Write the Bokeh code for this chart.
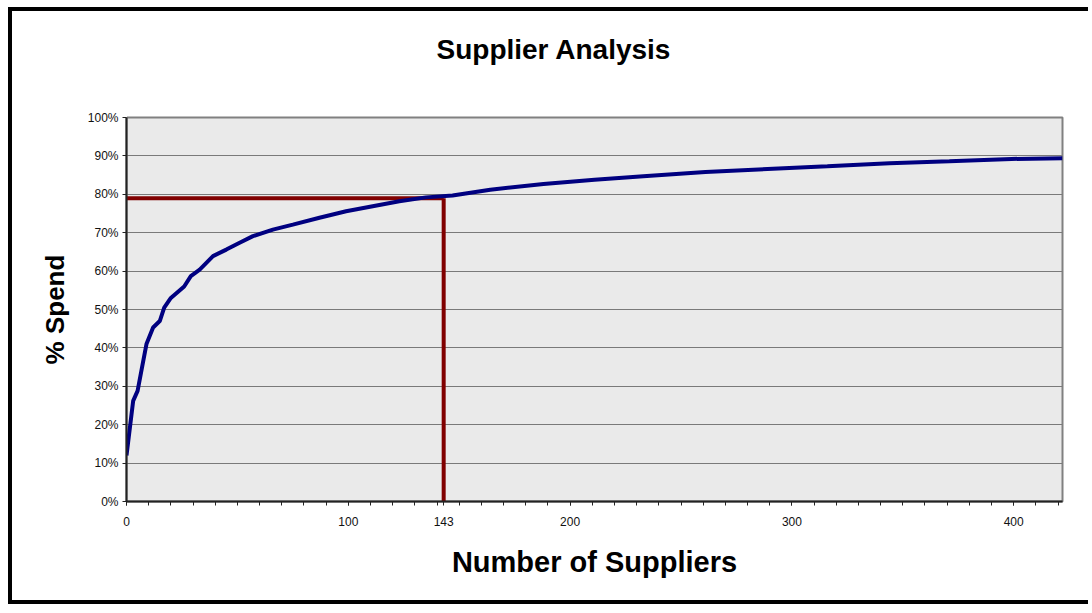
from bokeh.plotting import figure
from bokeh.models import Range1d, FixedTicker, CustomJSTickFormatter, LinearAxis
from bokeh.embed import file_html
from bokeh.resources import INLINE

# cumulative share of spend by number of suppliers
suppliers = [0, 3, 5, 7, 9, 12, 15, 17, 20, 26, 29, 33, 39, 45, 51, 57, 66, 75, 87, 99,
             111, 123, 135, 147, 164, 188, 211, 233, 261, 289, 316, 344, 371, 399, 422]
spend_pct = [12.0, 26.2, 28.8, 34.9, 41.0, 45.3, 47.0, 50.5, 53.0, 56.0, 58.7, 60.4, 63.9,
             65.6, 67.4, 69.1, 70.8, 72.1, 73.9, 75.6, 76.9, 78.2, 79.2, 79.7, 81.2, 82.7,
             83.8, 84.7, 85.8, 86.6, 87.3, 88.1, 88.6, 89.2, 89.4]

cutoff_suppliers = 143
cutoff_pct = 79.0

x_ticks = [0, 100, 143, 200, 300, 400]
x_minor = list(range(0, 430, 10))
y_ticks = [0, 10, 20, 30, 40, 50, 60, 70, 80, 90, 100]
x_max = 422

title_text = "Supplier Analysis"
FONT = "Liberation Sans"

p = figure(width=1080, height=597, output_backend="svg", toolbar_location=None,
           x_range=Range1d(0, x_max), y_range=Range1d(0, 100),
           min_border_left=114, min_border_right=30, min_border_top=106,
           min_border_bottom=107)
p.styles = {"border-top": "4px solid black", "border-left": "4px solid black",
            "border-bottom": "4px solid black", "margin": "7px 0px 0px 8px"}

# spacer between the plot area and the title (an invisible axis)
spacer = LinearAxis(ticker=FixedTicker(ticks=[0], minor_ticks=[]), major_tick_out=51,
                    major_tick_in=0, axis_line_color=None, major_tick_line_color="white",
                    minor_tick_line_color=None, major_label_standoff=0,
                    major_label_overrides={0: ""}, major_label_text_font_size="1px")
p.add_layout(spacer, "above")

p.title.text = title_text
p.title.align = "left"
p.title.offset = 310
p.title.text_font = FONT
p.title.text_font_size = "28px"
p.title.text_font_style = "bold"
p.title.text_color = "black"
p.title.standoff = 4

p.background_fill_color = "#eaeaea"
p.border_fill_color = "white"
p.outline_line_color = "#808080"
p.outline_line_width = 2

# grid
p.xgrid.visible = False
p.ygrid.grid_line_color = "#7a7a7a"
p.ygrid.grid_line_width = 1

# x axis
xa = p.below[0]
xa.ticker = FixedTicker(ticks=x_ticks, minor_ticks=x_minor)
xa.axis_label = "Number of Suppliers"
xa.axis_label_text_font = FONT
xa.axis_label_text_font_size = "29px"
xa.axis_label_text_font_style = "bold"
xa.axis_label_text_color = "black"
xa.axis_label_standoff = 17
xa.major_label_text_font = FONT
xa.major_label_text_font_size = "12px"
xa.major_label_text_color = "#111111"
xa.major_label_standoff = 11
xa.major_tick_in = 0
xa.major_tick_out = 4
xa.minor_tick_in = 0
xa.minor_tick_out = 4
xa.axis_line_color = "#222222"
xa.axis_line_width = 2
xa.major_tick_line_color = "#222222"
xa.minor_tick_line_color = "#222222"

# y axis
ya = p.yaxis[0]
ya.ticker = FixedTicker(ticks=y_ticks, minor_ticks=[])
ya.formatter = CustomJSTickFormatter(code="return tick + '%';")
ya.axis_label = "% Spend"
ya.axis_label_text_font = FONT
ya.axis_label_text_font_size = "26px"
ya.axis_label_text_font_style = "bold"
ya.axis_label_text_color = "black"
ya.axis_label_standoff = 15
ya.major_label_text_font = FONT
ya.major_label_text_font_size = "12px"
ya.major_label_text_color = "#111111"
ya.major_label_standoff = 4
ya.major_tick_in = 0
ya.major_tick_out = 4
ya.minor_tick_line_color = None
ya.axis_line_color = "#222222"
ya.axis_line_width = 2
ya.major_tick_line_color = "#222222"

# cutoff lines
p.line([0, cutoff_suppliers], [cutoff_pct, cutoff_pct], line_color="#800000", line_width=4)
p.line([cutoff_suppliers, cutoff_suppliers], [0, cutoff_pct], line_color="#800000", line_width=4)

# cumulative curve
p.line(suppliers, spend_pct, line_color="#000080", line_width=4)

open("out.html", "w").write(file_html(p, INLINE))
